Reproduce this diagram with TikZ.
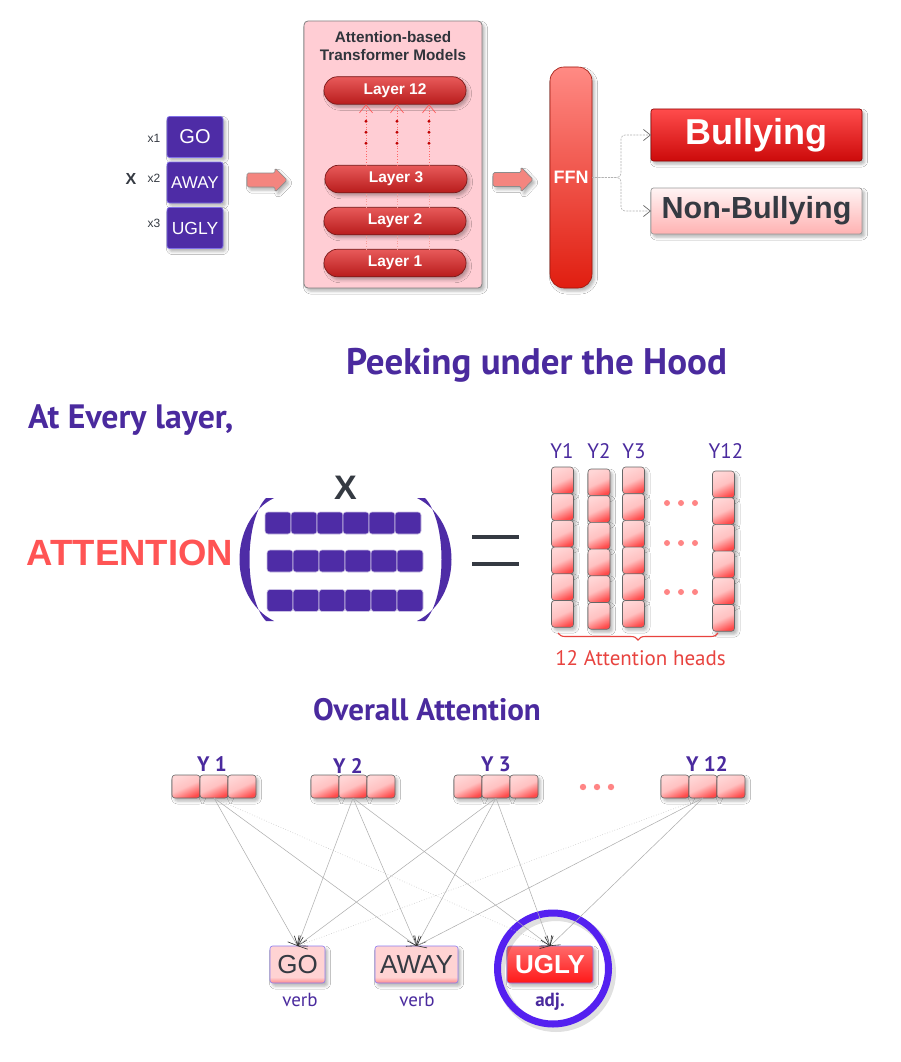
\documentclass[tikz,border=0pt]{standalone}
\usepackage{fontspec}
\setmainfont{Liberation Sans}
\newfontfamily\pts{PT Sans}
\usetikzlibrary{arrows.meta,decorations.pathreplacing,shadows.blur,calc}
\newcommand{\setfs}[1]{\fontsize{#1}{#1}\selectfont}
\definecolor{purp}{HTML}{4E2CA6}
\definecolor{purpedge}{HTML}{8070E8}
\definecolor{tpurp}{HTML}{4A2A9E}
\definecolor{dark}{HTML}{353A42}
\definecolor{attred}{HTML}{FF5454}
\definecolor{headred}{HTML}{E8433F}
\definecolor{tboxfill}{HTML}{FFCDD4}
\definecolor{salm}{HTML}{F4857F}
\definecolor{ringc}{HTML}{5420F0}
\definecolor{dotpink}{HTML}{FF8585}
\definecolor{layertop}{HTML}{E85A5A}
\definecolor{layerbot}{HTML}{B81C1C}
\definecolor{layeredge}{HTML}{7A1A1A}
\definecolor{ffntop}{HTML}{FF8A84}
\definecolor{ffnbot}{HTML}{E01E10}
\definecolor{bulltop}{HTML}{FF4C4C}
\definecolor{bullbot}{HTML}{CC0A0A}
\definecolor{nbtop}{HTML}{FFF4F4}
\definecolor{nbbot}{HTML}{FFB2B2}
\definecolor{pinkL}{HTML}{FFD6D6}
\definecolor{pinkR}{HTML}{FF4A4A}
\definecolor{wpinkL}{HTML}{FFD3D3}
\definecolor{wpinkD}{HTML}{FF8A8A}
\definecolor{wedge}{HTML}{8C7CF0}
\definecolor{uglytop}{HTML}{FF6A6A}
\definecolor{uglybot}{HTML}{FF1818}
\pgfdeclareverticalshading{wordsh}{100bp}{color(0bp)=(wpinkD); color(25bp)=(wpinkD); color(33bp)=(wpinkL); color(100bp)=(wpinkL)}
\begin{document}
\begin{tikzpicture}[x=1pt,y=-1pt,
  every node/.style={inner sep=0pt, outer sep=0pt},
  shad/.style={blur shadow={shadow xshift=2.5pt,shadow yshift=-3pt,shadow blur radius=3pt,shadow opacity=30}},
  inbox/.style={shad, draw=purpedge, line width=0.7pt, fill=purp, rounded corners=2.5pt, minimum width=56pt, minimum height=41pt, text=white},
  xlab/.style={font=\setfs{12}, text=dark},
  blockarr/.style={shad, draw=gray!90, line width=0.7pt, fill=salm, rounded corners=1.5pt},
  tbox/.style={shad, draw=gray, line width=0.8pt, fill=tboxfill, rounded corners=4pt, minimum width=178pt, minimum height=267pt},
  layer/.style={shad, draw=layeredge, line width=0.7pt, top color=layertop, bottom color=layerbot, rounded corners=13.5pt, minimum width=142pt, minimum height=27.5pt, text=white, font=\bfseries\setfs{15.5}},
  pinkdot/.style={draw=salm!80, line width=0.6pt, dotted},
  reddot/.style={draw=red!60, line width=0.7pt, dotted, -{Straight Barb[length=8pt,width=13pt,line width=0.7pt,color=red!65]}},
  dashconn/.style={draw=gray!60, line width=0.6pt, dash pattern=on 2pt off 1.2pt, rounded corners=4pt, -{Straight Barb[length=7pt,width=11pt,line width=0.7pt,color=gray!85!black]}},
  mcell/.style={draw=white!70!purp, line width=0.6pt, fill=purp, rounded corners=3pt, minimum width=26pt, minimum height=22pt},
  pcell/.style={shad, draw=gray!80!black, line width=0.6pt, rounded corners=3pt, top color=pinkL, bottom color=pinkR, middle color=pinkL!85!pinkR, shading angle=25},
  ycell/.style={pcell, minimum width=22pt, minimum height=26.7pt},
  hcell/.style={pcell, minimum width=28pt, minimum height=23pt},
  ylab/.style={anchor=base, font=\pts\setfs{21}, text=tpurp},
  gylab/.style={anchor=base, font=\pts\bfseries\setfs{21}, text=tpurp},
  wbox/.style={shad, draw=wedge, line width=0.6pt, shading=wordsh, rounded corners=2.5pt, minimum height=37pt, text=dark, font=\setfs{26}},
  poslab/.style={anchor=base, font=\pts\setfs{19}, text=tpurp},
  attn/.style={draw=gray!65, line width=0.5pt, -{Straight Barb[length=8pt,width=13pt,line width=0.6pt,color=gray!35!black]}},
  attndot/.style={draw=gray!45, line width=0.6pt, dotted, -{Straight Barb[length=8pt,width=13pt,line width=0.6pt,color=gray!35!black]}},
  pdot/.style={fill=dotpink}
]
\fill[white] (0,0) rectangle (900,1062);
\path[use as bounding box] (0,0) rectangle (900,1062);

% ---------- top: inputs ----------
\node[inbox, font=\setfs{20}] (in1) at (195,137) {GO};
\node[inbox, font=\setfs{17}] (in2) at (195,182.5) {AWAY};
\node[inbox, font=\setfs{17.5}] (in3) at (195,228) {UGLY};
\node[xlab] (lx1) at (154,138) {x1};
\node[xlab] (lx2) at (154,178.5) {x2};
\node[xlab] (lx3) at (154,223) {x3};
\node[font=\bfseries\setfs{16}, text=dark] (bigx) at (131,178.5) {X};

\draw[blockarr] (247,173) -- (275,173) -- (275,168) -- (287,180) -- (275,192) -- (275,187) -- (247,187) -- cycle;

% ---------- transformer ----------
\node[tbox] (tb) at (393,154.5) {};
\node[anchor=base, font=\bfseries\setfs{15.3}, text=dark!90!black] (tt1) at (393,43) {Attention-based};
\node[anchor=base, font=\bfseries\setfs{15.3}, text=dark!90!black] (tt2) at (393,61) {Transformer Models};
\node[layer] (L12) at (395,90.5) {Layer 12};
\node[layer] (L3) at (396,179) {Layer 3};
\node[layer] (L2) at (395,221) {Layer 2};
\node[layer] (L1) at (395,263) {Layer 1};
\coordinate (cx1) at (366,0);
\coordinate (cx2) at (397,0);
\coordinate (cx3) at (429,0);
\foreach \c in {cx1,cx2,cx3} {
  \draw[pinkdot] (L1.north -| \c) -- (L2.south -| \c);
  \draw[pinkdot] (L2.north -| \c) -- (L3.south -| \c);
  \draw[reddot] (L3.north -| \c) -- (L12.south -| \c);
  \foreach \d in {17,28,39} {
    \fill[red!75!black] ($(L12.south -| \c)+(0,\d)$) circle (1.6pt);
  }
}

\draw[blockarr] (493,172.5) -- (521,172.5) -- (521,167) -- (533,179.5) -- (521,192) -- (521,186.5) -- (493,186.5) -- cycle;

% ---------- FFN and outputs ----------
\node[shad, draw=ffnbot!70!black, line width=0.6pt, top color=ffntop, bottom color=ffnbot, rounded corners=14pt, minimum width=42pt, minimum height=221pt, text=white, font=\bfseries\setfs{18}] (ffn) at (571,177.5) {FFN};
\node[shad, draw=bullbot!70!black, line width=0.7pt, top color=bulltop, bottom color=bullbot, rounded corners=2.5pt, minimum width=211pt, minimum height=52pt, text=white, font=\bfseries\setfs{36}] (bully) at (756.5,135) {Bullying};
\node[shad, draw=gray!80, line width=0.7pt, top color=nbtop, bottom color=nbbot, rounded corners=2.5pt, minimum width=211pt, minimum height=46pt, text=dark, font=\bfseries\setfs{30.5}] (nbully) at (756.5,211) {Non-Bullying};
\draw[dashconn] (ffn.east) -- ($(ffn.east)+(29,0)$) |- (bully.west);
\draw[dashconn] (ffn.east) -- ($(ffn.east)+(29,0)$) |- (nbully.west);

% ---------- middle: titles ----------
\node[anchor=base, font=\pts\bfseries\setfs{37}, text=tpurp] (peek) at (536.5,374) {Peeking under the Hood};
\node[anchor=base west, font=\pts\bfseries\setfs{33.8}, text=tpurp] (every) at (28,428) {At Every layer,};
\node[anchor=base west, font=\bfseries\setfs{36.5}, text=attred] (attn) at (27,565) {ATTENTION};

% ---------- matrix X ----------
\node[font=\bfseries\setfs{34}, text=dark] (mx) at (345.5,488) {X};
\foreach \r/\yy/\xo in {1/523/265, 2/561/267, 3/600.5/267} {
  \foreach \c in {1,...,6} {
    \node[mcell] (m\r\c) at ({\xo+13+26*(\c-1)},\yy) {};
  }
}
\fill[purp] (274,498) .. controls (228,521) and (228,598) .. (274,621) -- (266,621) .. controls (244,598) and (244,521) .. (266,498) -- cycle;
\fill[purp] (417,498) .. controls (463,521) and (463,598) .. (417,621) -- (425,621) .. controls (447,598) and (447,521) .. (425,498) -- cycle;
\draw[dark, line width=3.5pt] (472,537) -- (519,537);
\draw[dark, line width=3.5pt] (472,564) -- (519,564);

% ---------- attention heads columns ----------
\foreach \col/\cx/\ty in {1/562.5/467, 2/599/469, 3/633.5/467, 4/723.5/471} {
  \foreach \k in {1,...,6} {
    \node[ycell] (y\col r\k) at (\cx,{\ty+13.35+26.7*(\k-1)}) {};
  }
}
\node[ylab] (yl1) at (562,458) {Y1};
\node[ylab] (yl2) at (599,458) {Y2};
\node[ylab] (yl3) at (634,458) {Y3};
\node[ylab] (yl4) at (726,458) {Y12};
\foreach \yy in {503,543,592} {
  \foreach \xx in {667,681,695} {
    \fill[pdot] (\xx,\yy) circle (3pt);
  }
}
\draw[decorate, decoration={brace, mirror, amplitude=7pt}, draw=headred, line width=1.1pt] (558,633) -- (718,633);
\node[anchor=base, font=\pts\setfs{21}, text=headred] (heads) at (640.5,665) {12 Attention heads};

% ---------- overall attention ----------
\node[anchor=base, font=\pts\bfseries\setfs{31}, text=tpurp] (overall) at (427,720) {Overall Attention};
\foreach \g/\gx in {1/172, 2/311, 3/454, 4/661} {
  \foreach \k in {1,2,3} {
    \node[hcell] (g\g c\k) at ({\gx+14+28*(\k-1)},786.5) {};
  }
}
\node[gylab] (gl1) at (212,771) {Y 1};
\node[gylab] (gl2) at (348,773) {Y 2};
\node[gylab] (gl3) at (496,771) {Y 3};
\node[gylab] (gl4) at (707,771) {Y 12};
\foreach \xx in {583,597,611} {
  \fill[pdot] (\xx,787) circle (3.2pt);
}

% words
\node[wbox, minimum width=55pt] (go) at (297.5,964.5) {GO};
\node[wbox, minimum width=83pt] (away) at (416.5,964.5) {AWAY};
\node[shad, draw=wedge, line width=0.6pt, top color=uglytop, bottom color=uglybot, rounded corners=2.5pt, minimum width=86pt, minimum height=37pt, text=white, font=\bfseries\setfs{26}] (ugly) at (550,964.5) {UGLY};
\node[poslab] (p1) at (300,1006) {verb};
\node[poslab] (p2) at (417,1006) {verb};
\node[poslab, font=\pts\bfseries\setfs{19}] (p3) at (550,1006) {adj.};
\draw[black, opacity=0.12, line width=9pt] (556,972) circle (55.5pt);
\node[circle, draw=ringc, line width=7pt, minimum size=111pt] (ring) at (553,968.5) {};

% connectors
\draw[attn] (g1c2.south) -- (go.north);
\draw[attn] (g1c2.south) -- (away.north);
\draw[attndot] (g1c2.south) -- (ugly.north);
\draw[attn] (g2c2.south) -- (go.north);
\draw[attn] (g2c2.south) -- (away.north);
\draw[attn] (g2c2.south) -- (ugly.north);
\draw[attn] (g3c2.south) -- (go.north);
\draw[attn] (g3c2.south) -- (away.north);
\draw[attn] (g3c2.south) -- (ugly.north);
\draw[attndot] (g4c2.south) -- (go.north);
\draw[attn] (g4c2.south) -- (away.north);
\draw[attn] (g4c2.south) -- (ugly.north);
\end{tikzpicture}
\end{document}
